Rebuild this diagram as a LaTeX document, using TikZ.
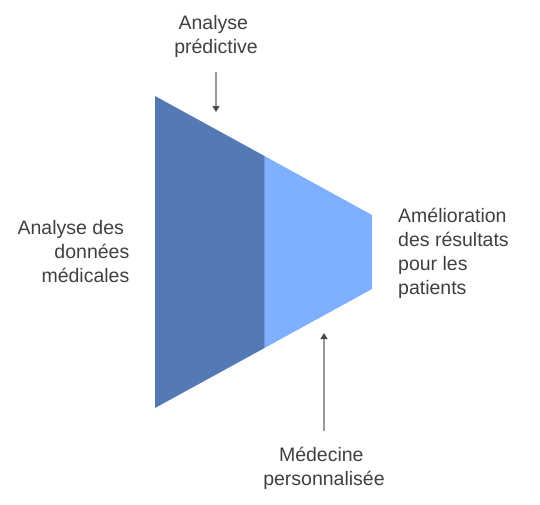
\documentclass[tikz,border=0pt]{standalone}
\usepackage{fontspec}
\setmainfont{Liberation Sans}
\usetikzlibrary{arrows.meta}
\definecolor{darkblue}{HTML}{5479B4}
\definecolor{lightblue}{HTML}{7FB0FF}
\definecolor{divider}{HTML}{7299DE}
\definecolor{txt}{HTML}{404040}
\definecolor{arrowgray}{HTML}{999999}
\definecolor{tipgray}{HTML}{4A4A4A}
\tikzset{
  lbl/.style={font=\fontsize{19.5}{24}\selectfont, text=txt, inner sep=0pt},
  pointer/.style={draw=arrowgray, line width=1.4pt, -{Triangle[length=6pt,width=7pt,color=tipgray]}}
}
\newcommand{\tsp}{\hspace*{0.278em}}
\begin{document}
\begin{tikzpicture}[x=1pt,y=-1pt]
\useasboundingbox (0,0) rectangle (540,504);
% shapes
\coordinate (tl) at (155,96);
\coordinate (bl) at (155,408);
\coordinate (tm) at (264.5,156);
\coordinate (bm) at (264.5,348);
\coordinate (tr) at (372,215);
\coordinate (br) at (372,289);
\fill[darkblue] (tl) -- (tm) -- (bm) -- (bl) -- cycle;
\fill[lightblue] (tm) -- (tr) -- (br) -- (bm) -- cycle;
\draw[divider, line width=1.5pt] (tm) -- (bm);
% labels
\node[lbl, align=center] (top) at (216,36) {Analyse\tsp\\prédictive};
\node[lbl, align=right, anchor=east] (left) at (129.5,252) {Analyse des\tsp\\données\tsp\\médicales};
\node[lbl, align=left, anchor=west] (right) at (398,253) {Amélioration\\des résultats\\pour les\\patients};
\node[lbl, align=center] (bottom) at (324,468) {Médecine\tsp\\personnalisée};
% arrows
\coordinate (a1s) at (216,72);
\coordinate (a1e) at (216,112);
\coordinate (a2s) at (324,431);
\coordinate (a2e) at (324,333);
\draw[pointer] (a1s) -- (a1e);
\draw[pointer] (a2s) -- (a2e);
\end{tikzpicture}
\end{document}
